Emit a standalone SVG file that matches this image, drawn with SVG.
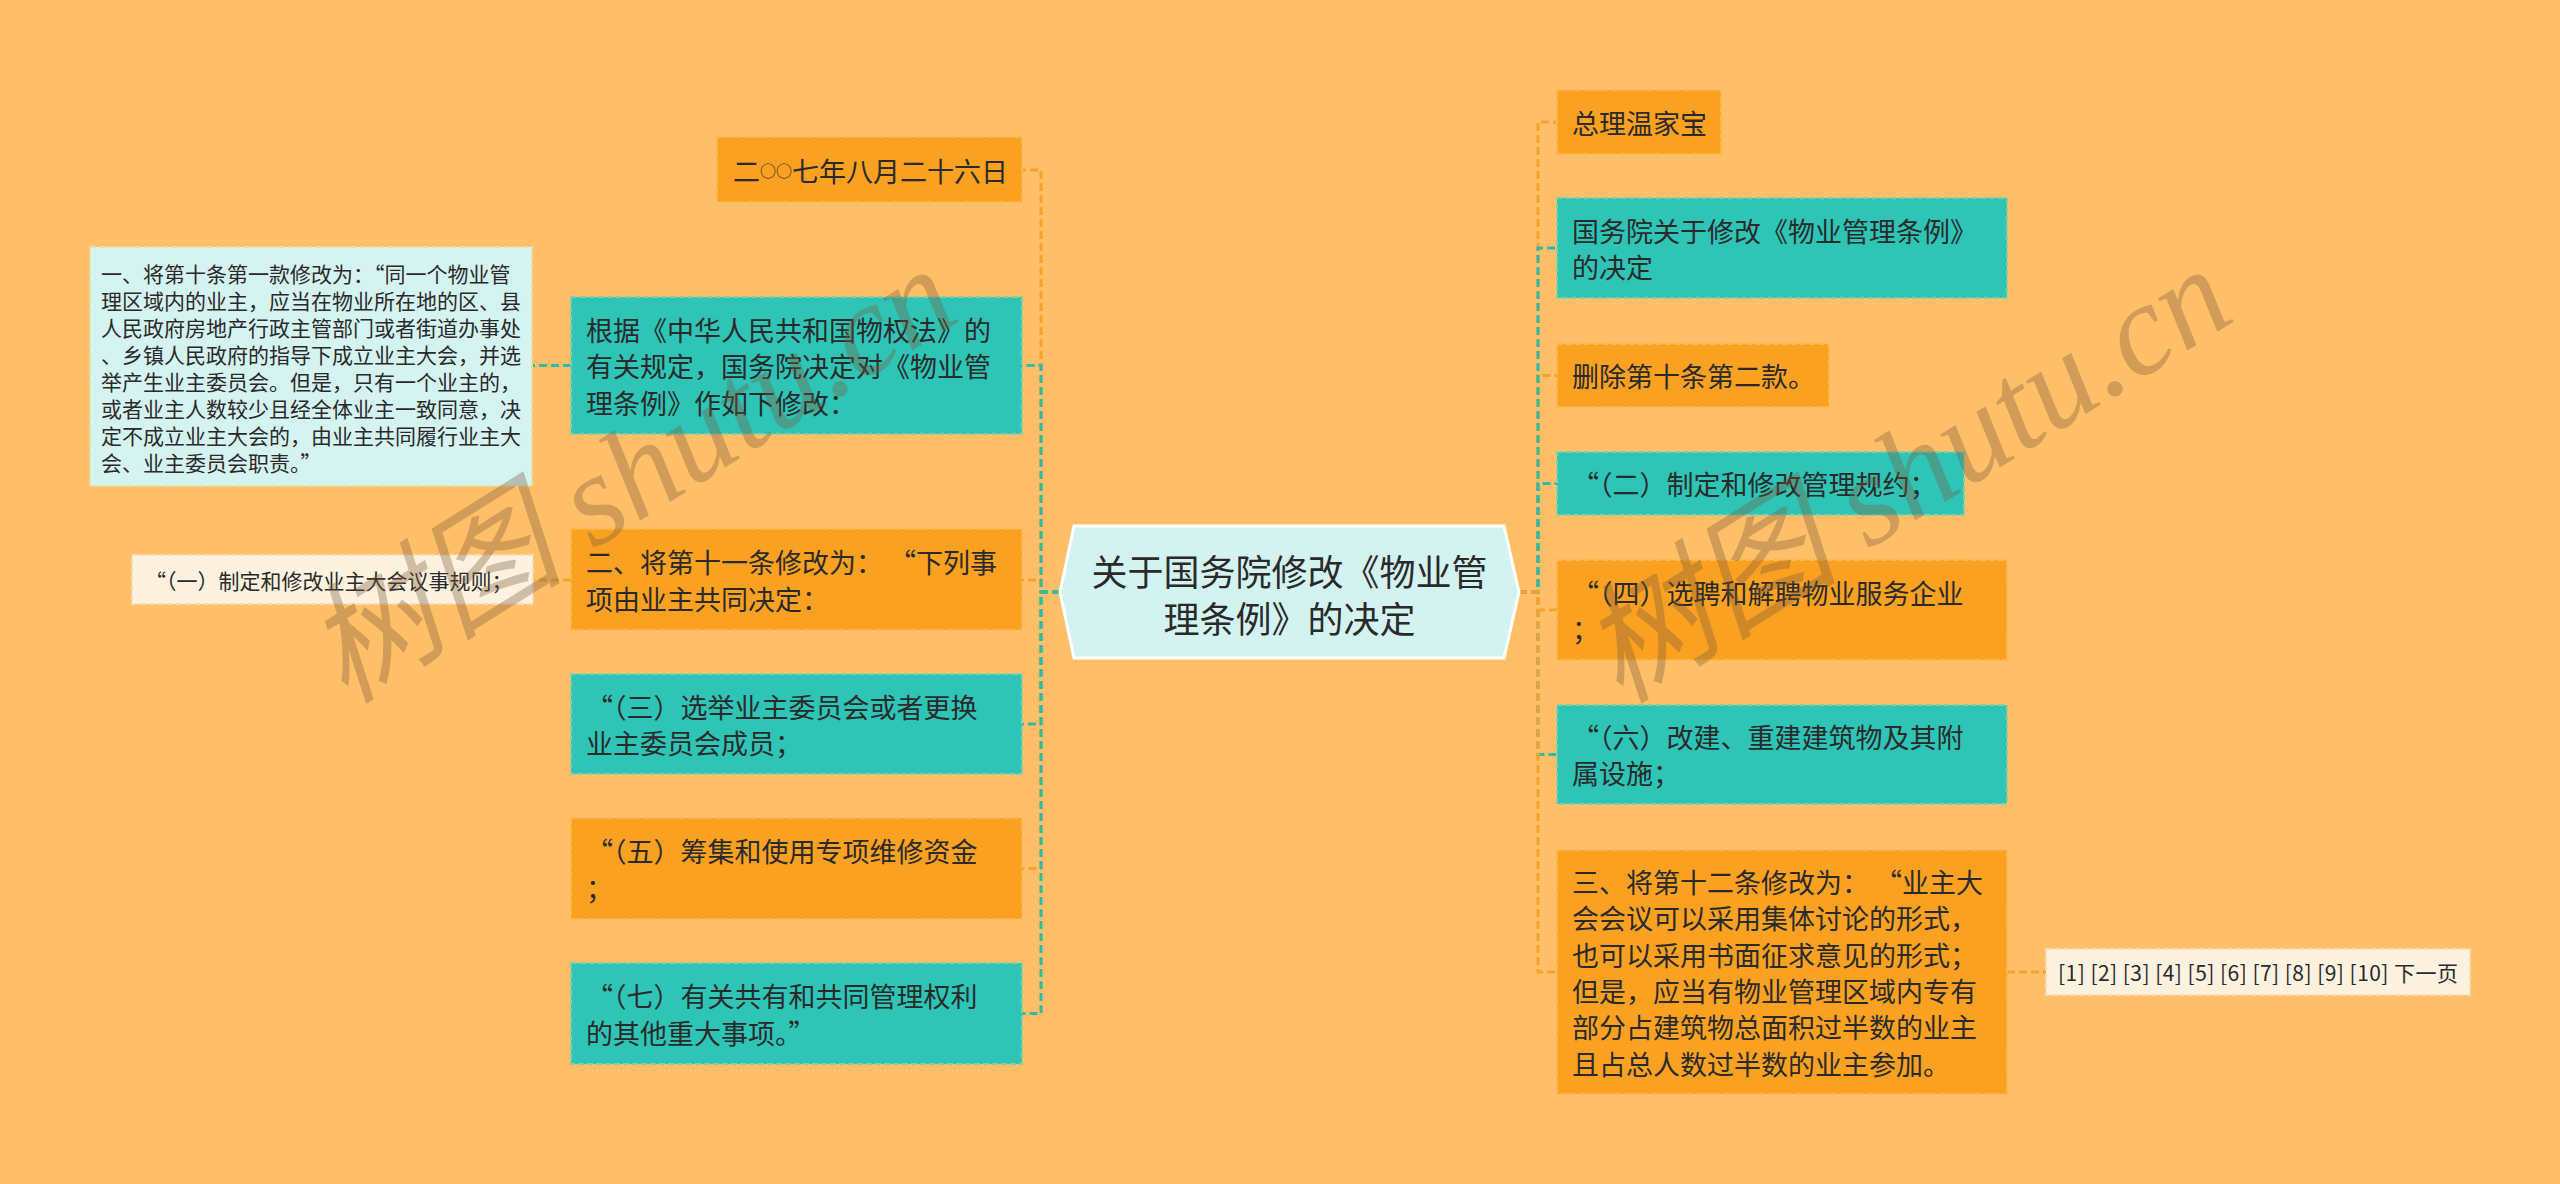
<svg xmlns="http://www.w3.org/2000/svg" width="2560" height="1184" viewBox="0 0 2560 1184">
<style>
.t{font-family:"Noto Sans CJK SC","Noto Sans",sans-serif;dominant-baseline:central;fill:#2a2a2a}
.f27{font-size:27px}
.f21{font-size:21px}
.f36{font-size:36px}
.or{fill:#FBA122;stroke:#FDB84C;stroke-width:2;stroke-dasharray:6 3}
.te{fill:#2EC4B6;stroke:#86CFA2;stroke-width:2;stroke-dasharray:6 3}
.lc{fill:#D5F3F1;stroke:#EADDA8;stroke-width:2;stroke-dasharray:6 3}
.cr{fill:#FDF1DF;stroke:#F4DDB4;stroke-width:2;stroke-dasharray:6 3}
.c{fill:none;stroke-width:3;stroke-dasharray:8 4}
.co{stroke:#F7A12A}
.ct{stroke:#32B9A8}
.wm{font-family:"Liberation Serif","Noto Sans CJK SC",serif;font-style:italic;font-size:130px;fill:#7a5a3a;opacity:0.34;white-space:pre}
</style>
<rect x="0" y="0" width="2560" height="1184" fill="#FFBF69"/>

<g id="connectors">
  <path class="c co" d="M1060,592 H1041 V170 H1022"/>
  <path class="c co" d="M1060,592 H1041 V580 H1022"/>
  <path class="c co" d="M1060,592 H1041 V868.5 H1022"/>
  <path class="c ct" d="M1060,592 H1041 V365.5 H1022"/>
  <path class="c ct" d="M1060,592 H1041 V724 H1022"/>
  <path class="c ct" d="M1060,592 H1041 V1013.5 H1022"/>
  <path class="c ct" d="M571,365.5 H532"/>
  <path class="c co" d="M571,580 H533"/>
  <path class="c co" d="M1519,592 H1538 V122 H1557"/>
  <path class="c co" d="M1519,592 H1538 V375.5 H1557"/>
  <path class="c ct" d="M1519,592 H1538 V248 H1557"/>
  <path class="c ct" d="M1519,592 H1538 V483.5 H1557"/>
  <path class="c ct" d="M1519,592 H1538 V754.5 H1557"/>
  <path class="c co" d="M1519,592 H1538 V610 H1557"/>
  <path class="c co" d="M1519,592 H1538 V972 H1557"/>
  <path class="c co" d="M2007,972 H2046"/>
</g>

<g id="center">
  <polygon points="1060,592 1074,526 1504,526 1519,592 1504,658 1074,658" fill="#D3F3F1" stroke="#FFFFFF" stroke-width="3"/>
  <text class="t f36" x="1289.5" y="570" text-anchor="middle">关于国务院修改《物业管</text>
  <text class="t f36" x="1289.5" y="617" text-anchor="middle">理条例》的决定</text>
</g>

<g id="n-date">
  <rect class="or" x="717" y="137" width="305" height="65"/>
  <text class="t f27" x="733" y="170">二<tspan font-size="16px">○○</tspan>七年八月二十六日</text>
</g>

<g id="n-genju">
  <rect class="te" x="571" y="297" width="451" height="137"/>
  <text class="t f27" x="586" y="329">根据《中华人民共和国物权法》的</text>
  <text class="t f27" x="586" y="365.5">有关规定，国务院决定对《物业管</text>
  <text class="t f27" x="586" y="402">理条例》作如下修改：</text>
</g>

<g id="n-yi">
  <rect class="lc" x="90" y="247" width="442" height="239"/>
  <text class="t f21" x="101" y="273">一、将第十条第一款修改为：“同一个物业管</text>
  <text class="t f21" x="101" y="300">理区域内的业主，应当在物业所在地的区、县</text>
  <text class="t f21" x="101" y="327">人民政府房地产行政主管部门或者街道办事处</text>
  <text class="t f21" x="101" y="354">、乡镇人民政府的指导下成立业主大会，并选</text>
  <text class="t f21" x="101" y="381">举产生业主委员会。但是，只有一个业主的，</text>
  <text class="t f21" x="101" y="408">或者业主人数较少且经全体业主一致同意，决</text>
  <text class="t f21" x="101" y="435">定不成立业主大会的，由业主共同履行业主大</text>
  <text class="t f21" x="101" y="462">会、业主委员会职责。”</text>
</g>

<g id="n-yi-1">
  <rect class="cr" x="132" y="555" width="401" height="49"/>
  <text class="t f21" x="145" y="580">“（一）制定和修改业主大会议事规则；</text>
</g>

<g id="n-er">
  <rect class="or" x="571" y="529" width="451" height="101"/>
  <text class="t f27" x="586" y="561.5">二、将第十一条修改为： “下列事</text>
  <text class="t f27" x="586" y="598">项由业主共同决定：</text>
</g>

<g id="n-san">
  <rect class="te" x="571" y="674" width="451" height="100"/>
  <text class="t f27" x="586" y="706">“（三）选举业主委员会或者更换</text>
  <text class="t f27" x="586" y="742">业主委员会成员；</text>
</g>

<g id="n-wu">
  <rect class="or" x="571" y="818" width="451" height="101"/>
  <text class="t f27" x="586" y="850">“（五）筹集和使用专项维修资金</text>
  <text class="t f27" x="586" y="887">；</text>
</g>

<g id="n-qi">
  <rect class="te" x="571" y="963" width="451" height="101"/>
  <text class="t f27" x="586" y="995">“（七）有关共有和共同管理权利</text>
  <text class="t f27" x="586" y="1032">的其他重大事项。”</text>
</g>

<g id="n-zongli">
  <rect class="or" x="1557" y="90" width="164" height="64"/>
  <text class="t f27" x="1572" y="122">总理温家宝</text>
</g>

<g id="n-guowuyuan">
  <rect class="te" x="1557" y="198" width="450" height="100"/>
  <text class="t f27" x="1572" y="230">国务院关于修改《物业管理条例》</text>
  <text class="t f27" x="1572" y="266">的决定</text>
</g>

<g id="n-shanchu">
  <rect class="or" x="1557" y="344" width="272" height="63"/>
  <text class="t f27" x="1572" y="375.5">删除第十条第二款。</text>
</g>

<g id="n-er2">
  <rect class="te" x="1557" y="452" width="407" height="63"/>
  <text class="t f27" x="1572" y="483.5">“（二）制定和修改管理规约；</text>
</g>

<g id="n-si">
  <rect class="or" x="1557" y="560" width="450" height="100"/>
  <text class="t f27" x="1572" y="592">“（四）选聘和解聘物业服务企业</text>
  <text class="t f27" x="1572" y="628">；</text>
</g>

<g id="n-liu">
  <rect class="te" x="1557" y="705" width="450" height="99"/>
  <text class="t f27" x="1572" y="736.5">“（六）改建、重建建筑物及其附</text>
  <text class="t f27" x="1572" y="772.5">属设施；</text>
</g>

<g id="n-san2">
  <rect class="or" x="1557" y="850" width="450" height="244"/>
  <text class="t f27" x="1572" y="881">三、将第十二条修改为： “业主大</text>
  <text class="t f27" x="1572" y="917.5">会会议可以采用集体讨论的形式，</text>
  <text class="t f27" x="1572" y="954">也可以采用书面征求意见的形式；</text>
  <text class="t f27" x="1572" y="990">但是，应当有物业管理区域内专有</text>
  <text class="t f27" x="1572" y="1026.5">部分占建筑物总面积过半数的业主</text>
  <text class="t f27" x="1572" y="1063">且占总人数过半数的业主参加。</text>
</g>

<g id="n-pages">
  <rect class="cr" x="2046" y="949" width="424" height="46"/>
  <text class="t f21" x="2058" y="972" textLength="400" lengthAdjust="spacing">[1] [2] [3] [4] [5] [6] [7] [8] [9] [10] 下一页</text>
</g>

<g id="watermark">
  <text class="wm" transform="translate(345,705) rotate(-32)">树图 shutu.cn</text>
  <text class="wm" transform="translate(1620,705) rotate(-32)">树图 shutu.cn</text>
</g>
</svg>
